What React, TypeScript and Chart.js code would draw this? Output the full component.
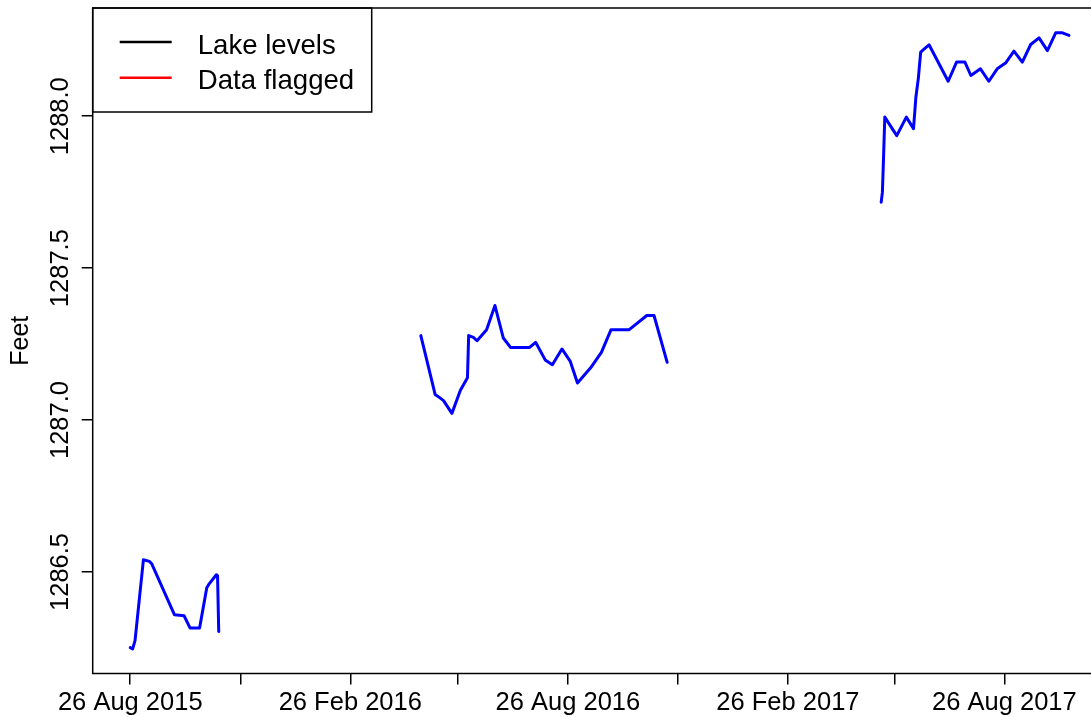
import React, { useEffect, useRef } from 'react';
import { Chart, registerables } from 'chart.js';

Chart.register(...registerables);

// ---- Data ----
const seg1Dates = ['2015-08-26', '2015-08-28', '2015-08-30', '2015-09-06', '2015-09-11', '2015-09-13', '2015-10-02', '2015-10-10', '2015-10-15', '2015-10-23', '2015-10-29', '2015-10-31', '2015-11-06', '2015-11-07', '2015-11-08'];
const seg1Feet = [1286.251, 1286.247, 1286.274, 1286.540, 1286.535, 1286.527, 1286.359, 1286.356, 1286.316, 1286.316, 1286.448, 1286.461, 1286.491, 1286.488, 1286.304];

const seg2Dates = ['2016-04-25', '2016-05-07', '2016-05-11', '2016-05-14', '2016-05-21', '2016-05-28', '2016-06-03', '2016-06-04', '2016-06-08', '2016-06-11', '2016-06-19', '2016-06-26', '2016-07-03', '2016-07-09', '2016-07-25', '2016-07-30', '2016-08-07', '2016-08-13', '2016-08-21', '2016-08-28', '2016-09-03', '2016-09-14', '2016-09-23', '2016-10-01', '2016-10-16', '2016-10-31', '2016-11-06', '2016-11-17'];
const seg2Feet = [1287.278, 1287.084, 1287.073, 1287.064, 1287.022, 1287.097, 1287.139, 1287.278, 1287.272, 1287.261, 1287.297, 1287.377, 1287.270, 1287.239, 1287.239, 1287.256, 1287.198, 1287.182, 1287.234, 1287.193, 1287.122, 1287.172, 1287.223, 1287.297, 1287.297, 1287.344, 1287.344, 1287.190];

const seg3Dates = ['2017-05-15', '2017-05-16', '2017-05-17', '2017-05-18', '2017-05-28', '2017-06-05', '2017-06-11', '2017-06-13', '2017-06-15', '2017-06-17', '2017-06-21', '2017-06-24', '2017-07-10', '2017-07-17', '2017-07-24', '2017-07-29', '2017-08-06', '2017-08-13', '2017-08-20', '2017-08-27', '2017-09-03', '2017-09-10', '2017-09-17', '2017-09-24', '2017-10-01', '2017-10-08', '2017-10-13', '2017-10-19'];
const seg3Feet = [1287.717, 1287.750, 1287.871, 1287.997, 1287.936, 1287.997, 1287.959, 1288.063, 1288.123, 1288.211, 1288.225, 1288.235, 1288.115, 1288.178, 1288.178, 1288.134, 1288.156, 1288.115, 1288.156, 1288.175, 1288.214, 1288.178, 1288.236, 1288.258, 1288.216, 1288.275, 1288.275, 1288.266];

const xTickDates = ['2015-08-26', '2015-11-26', '2016-02-26', '2016-05-26', '2016-08-26', '2016-11-26', '2017-02-26', '2017-05-26', '2017-08-26'];
const xTickLabels = ['26 Aug 2015', '26 Nov 2015', '26 Feb 2016', '26 May 2016', '26 Aug 2016', '26 Nov 2016', '26 Feb 2017', '26 May 2017', '26 Aug 2017'];
const yTickValues = [1286.5, 1287.0, 1287.5, 1288.0];

const legendLabels = ['Lake levels', 'Data flagged'];
const legendColors = ['#000000', '#ff0000'];
const yTitle = 'Feet';

// ---- helpers ----
const BASE = Date.UTC(2015, 7, 26);
const toDay = (s: string) => {
  const [y, m, d] = s.split('-').map(Number);
  return (Date.UTC(y, m - 1, d) - BASE) / 86400000;
};
const FONT = "'Liberation Sans', Arial, sans-serif";

const segments = [
  { dates: seg1Dates, feet: seg1Feet },
  { dates: seg2Dates, feet: seg2Feet },
  { dates: seg3Dates, feet: seg3Feet },
];

export default function App() {
  const ref = useRef<HTMLCanvasElement | null>(null);

  useEffect(() => {
    if (!ref.current) return;
    const allDays = segments.flatMap((s) => s.dates.map(toDay));
    const allFeet = segments.flatMap((s) => s.feet);
    const dMin = Math.min(...allDays), dMax = Math.max(...allDays);
    const fMin = Math.min(...allFeet), fMax = Math.max(...allFeet);
    const dPad = (dMax - dMin) * 0.04;
    const fPad = (fMax - fMin) * 0.04;
    const xTickDays = xTickDates.map(toDay);

    const framePlugin = {
      id: 'frame',
      afterDraw(chart: any) {
        const { ctx, chartArea: a, scales } = chart;
        ctx.save();
        ctx.strokeStyle = '#000';
        ctx.lineWidth = 1.5;
        ctx.strokeRect(a.left, a.top, a.right - a.left, a.bottom - a.top);

        // y tick labels (rotated)
        ctx.fillStyle = '#000';
        ctx.font = `25.5px ${FONT}`;
        ctx.textAlign = 'center';
        ctx.textBaseline = 'alphabetic';
        for (const v of yTickValues) {
          const py = scales.y.getPixelForValue(v);
          ctx.save();
          ctx.translate(a.left - 24.7, py);
          ctx.rotate(-Math.PI / 2);
          ctx.fillText(v.toFixed(1), 0, 0);
          ctx.restore();
        }
        // y title
        ctx.save();
        ctx.font = `25px ${FONT}`;
        ctx.translate(27.5, (a.top + a.bottom) / 2);
        ctx.rotate(-Math.PI / 2);
        ctx.fillText(yTitle, 0, 0);
        ctx.restore();

        // legend
        const lx = a.left, ly = a.top;
        ctx.lineWidth = 1.5;
        ctx.strokeStyle = '#000';
        ctx.strokeRect(lx, ly, 279, 104);
        ctx.font = `27.6px ${FONT}`;
        ctx.textAlign = 'left';
        legendLabels.forEach((lab, i) => {
          const yl = ly + 34 + i * 35.7;
          ctx.strokeStyle = legendColors[i];
          ctx.lineWidth = 2.5;
          ctx.beginPath();
          ctx.moveTo(lx + 27, yl);
          ctx.lineTo(lx + 79, yl);
          ctx.stroke();
          ctx.fillStyle = '#000';
          ctx.fillText(lab, lx + 105, ly + 46 + i * 35.3);
        });
        ctx.restore();
      },
    };

    const chart = new Chart(ref.current, {
      type: 'line',
      data: {
        datasets: segments.map((s, i) => ({
          label: 'seg' + i,
          data: s.dates.map((d, j) => ({ x: toDay(d), y: s.feet[j] })),
          borderColor: '#0000ff',
          borderWidth: 3,
          pointRadius: 0,
          tension: 0,
          fill: false,
          borderJoinStyle: 'round' as const,
          borderCapStyle: 'round' as const,
        })),
      },
      options: {
        responsive: false,
        animation: false,
        devicePixelRatio: 1,
        layout: { padding: { top: 8, right: 13.5, left: 0, bottom: 0 } },
        plugins: { legend: { display: false }, tooltip: { enabled: false } },
        scales: {
          x: {
            type: 'linear',
            min: dMin - dPad,
            max: dMax + dPad,
            afterFit(s: any) { s.height = 43.5; },
            afterBuildTicks(s: any) { s.ticks = xTickDays.map((v) => ({ value: v })); },
            ticks: {
              autoSkip: false,
              maxRotation: 0,
              minRotation: 0,
              padding: 3,
              color: '#000',
              font: { family: FONT, size: 25.5 },
              callback: (_v: any, i: number) => (i % 2 === 0 ? xTickLabels[i] : ''),
            },
            grid: { drawOnChartArea: false, drawTicks: true, tickLength: 11, color: '#000', lineWidth: 1.5 },
            border: { display: false },
          },
          y: {
            type: 'linear',
            min: fMin - fPad,
            max: fMax + fPad,
            afterFit(s: any) { s.width = 92.7; },
            afterBuildTicks(s: any) { s.ticks = yTickValues.map((v) => ({ value: v })); },
            ticks: { display: false },
            grid: { drawOnChartArea: false, drawTicks: true, tickLength: 11, color: '#000', lineWidth: 1.5 },
            border: { display: false },
          },
        },
      },
      plugins: [framePlugin],
    } as any);
    return () => chart.destroy();
  }, []);

  return (
    <div style={{ position: 'fixed', left: 0, top: 0, width: 1091, height: 717, overflow: 'hidden', background: '#fff' }}>
      <canvas ref={ref} width={1120} height={717} style={{ display: 'block', width: 1120, height: 717 }} />
    </div>
  );
}
